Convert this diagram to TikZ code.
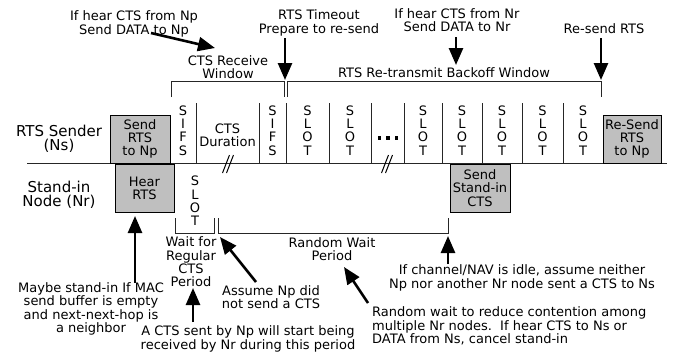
\documentclass[tikz,border=0pt]{standalone}
\usepackage{fontspec}
\setmainfont{DejaVu Sans}
\usetikzlibrary{arrows.meta}
\begin{document}
\begin{tikzpicture}[x=1pt,y=-1pt,
  txt/.style={font=\fontsize{13}{13.4}\selectfont, align=center, inner sep=0pt},
  sidelbl/.style={font=\fontsize{15}{14.5}\selectfont, align=center, inner sep=0pt},
  stack/.style={font=\fontsize{13}{13.3}\selectfont, align=center, inner sep=0pt},
  gbox/.style={draw=black, fill=black!25, line width=1pt, minimum width=#1, minimum height=48pt, inner sep=0pt, align=center, font=\fontsize{13}{13.3}\selectfont},
  divline/.style={line width=1pt, draw=black!85},
  bigarrow/.style={line width=2.6pt, -{Triangle[length=17pt,width=14pt]}},
]
\useasboundingbox (0,0) rectangle (675,354);

% time line
\coordinate (tl0) at (27,163);
\coordinate (tl1) at (667,163);
\draw[divline] (tl0) -- (tl1);

% side labels
\node[sidelbl] (ns) at (59,139) {RTS Sender\\(Ns)};
\node[sidelbl] (nr) at (59,195) {Stand-in\\Node (Nr)};

% grey boxes
\node[gbox=60pt] (b1) at (140,139) {Send\\RTS\\to Np};
\node[gbox=59pt] (b2) at (144.5,188) {Hear\\RTS};
\node[gbox=60pt] (b3) at (480,188) {Send\\Stand-in\\CTS};
\node[gbox=58pt] (b4) at (632,139) {Re-Send\\RTS\\to Np};

% dividers
\foreach \x in {196,259,286,329,371,404,442,482,522,563}
  \draw[divline] (\x,103) -- (\x,163);

% slot contents (upper row)
\node[stack] (sifs1) at (183,130.5) {S\\I\\F\\S};
\node[txt] (ctsd) at (227.5,135) {CTS\\Duration};
\node[stack] (sifs2) at (272.5,130.5) {S\\I\\F\\S};
\node[stack] (s1) at (307.5,130.5) {S\\L\\O\\T};
\node[stack] (s2) at (350,130.5) {S\\L\\O\\T};
\node[stack] (s3) at (423,130.5) {S\\L\\O\\T};
\node[stack] (s4) at (462,130.5) {S\\L\\O\\T};
\node[stack] (s5) at (502,130.5) {S\\L\\O\\T};
\node[stack] (s6) at (542.5,130.5) {S\\L\\O\\T};
\node[stack] (s7) at (583,130.5) {S\\L\\O\\T};
\foreach \x in {379.5,388,396.5}
  \fill (\x-1.8,136.2) rectangle (\x+1.8,139.8);

% lower slot
\node[stack] (ls) at (195,201) {S\\L\\O\\T};

% break marks
\foreach \cx in {228,387} {
  \draw[line width=1pt] (\cx-5.5,173) -- (\cx+1.5,155);
  \draw[line width=1pt] (\cx-1.5,173) -- (\cx+5.5,155);
}

% top brackets
\draw[divline] (171,97) -- (171,81) -- (284,81) -- (284,97);
\draw[divline] (287,97) -- (287,81) -- (601,81) -- (601,97);
\node[txt] (wl1) at (228,67) {CTS Receive\\Window};
\node[txt] (wl2) at (444,73) {RTS Re-transmit Backoff Window};

% lower brackets
\draw[divline] (175,218) -- (175,233) -- (214,233) -- (214,218);
\draw[divline] (218,218) -- (218,233) -- (448,233) -- (448,218);
\node[txt] (wfr) at (191,262) {Wait for\\Regular\\CTS\\Period};
\node[txt] (rwp) at (332,249) {Random Wait\\Period};

% top annotations
\node[txt] (t1) at (134,24) {If hear CTS from Np\\Send DATA to Np};
\node[txt] (t2) at (319,23) {RTS Timeout\\Prepare to re-send};
\node[txt] (t3) at (457,20) {If hear CTS from Nr\\Send DATA to Nr};
\node[txt] (t4) at (604,29) {Re-send RTS};

\coordinate (a1s) at (151,33);  \coordinate (a1e) at (215,48);
\coordinate (a2s) at (285,38);  \coordinate (a2e) at (285,80);
\coordinate (a3s) at (456,37);  \coordinate (a3e) at (456,65);
\coordinate (a4s) at (601,38);  \coordinate (a4e) at (601,80);
\draw[bigarrow] (a1s) -- (a1e);
\draw[bigarrow] (a2s) -- (a2e);
\draw[bigarrow] (a3s) -- (a3e);
\draw[bigarrow] (a4s) -- (a4e);

% bottom annotations
\node[txt] (m1) at (91,309) {Maybe stand-in If MAC\\send buffer is empty\\and next-next-hop is\\a neighbor};
\node[txt] (m2) at (271,297) {Assume Np did\\not send a CTS};
\node[txt] (m3) at (248,339) {A CTS sent by Np will start being\\received by Nr during this period};
\node[txt] (m4) at (522,278) {If channel/NAV is idle, assume neither\\Np nor another Nr node sent a CTS to Ns};
\node[txt, align=left, anchor=west] (m5) at (372,326) {Random wait to reduce contention among\\multiple Nr nodes.\ \ If hear CTS to Ns or\\DATA from Ns, cancel stand-in};

\coordinate (b1s) at (135,283); \coordinate (b1e) at (135,216);
\coordinate (b2s) at (193,322); \coordinate (b2e) at (193,288);
\coordinate (b3s) at (256,282); \coordinate (b3e) at (220,237);
\coordinate (b4s) at (368,303); \coordinate (b4e) at (344,267);
\coordinate (b5s) at (448,264); \coordinate (b5e) at (448,236);
\draw[bigarrow] (b1s) -- (b1e);
\draw[bigarrow] (b2s) -- (b2e);
\draw[bigarrow] (b3s) -- (b3e);
\draw[bigarrow] (b4s) -- (b4e);
\draw[bigarrow] (b5s) -- (b5e);
\end{tikzpicture}
\end{document}
